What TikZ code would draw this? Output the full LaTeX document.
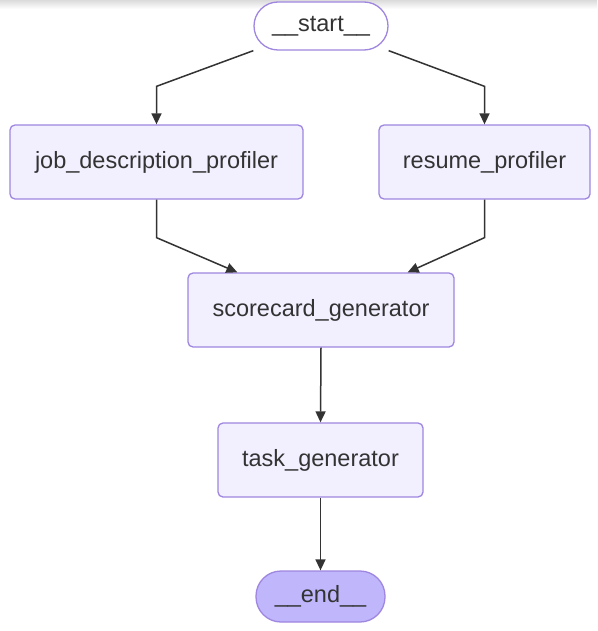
\documentclass[tikz,border=0pt]{standalone}
\usepackage{fontspec}
\setmainfont{Liberation Sans}
\usetikzlibrary{arrows.meta,calc}
\definecolor{boxfill}{HTML}{F2F0FF}
\definecolor{boxdraw}{HTML}{9F86E0}
\definecolor{endfill}{HTML}{BFB6FC}
\definecolor{edgecol}{HTML}{333333}
\definecolor{txt}{HTML}{333333}
\tikzset{
  proc/.style={draw=boxdraw, fill=boxfill, line width=1.3pt, rounded corners=5pt,
    minimum height=74pt, inner sep=0pt, text=txt, font=\fontsize{23.5}{26}\selectfont},
  termstart/.style={draw=boxdraw, fill=white, line width=1.3pt, rounded corners=24pt,
    minimum height=48pt, minimum width=134pt, inner sep=0pt, text=txt, font=\fontsize{23.5}{26}\selectfont},
  termend/.style={draw=boxdraw, fill=endfill, line width=1.3pt, rounded corners=25pt,
    minimum height=51pt, minimum width=129pt, inner sep=0pt, text=txt, font=\fontsize{23.5}{26}\selectfont},
  edge/.style={draw=edgecol, line width=1.5pt, -{Triangle[length=11pt,width=10pt]}}
}
\begin{document}
\begin{tikzpicture}[x=1pt,y=-1pt]
\useasboundingbox (0,0) rectangle (597,631);
\fill[white] (0,0) rectangle (597,631);
\shade[top color=black!14, bottom color=white] (0,0) rectangle (597,9);
\node[termstart] (start) at (321,26) {\_\_start\_\_};
\node[proc, minimum width=293pt] (jdp) at (156.5,162) {job\_description\_profiler};
\node[proc, minimum width=211pt] (rp) at (484.5,162) {resume\_profiler};
\node[proc, minimum width=266pt] (sc) at (321,310) {scorecard\_generator};
\node[proc, minimum width=205pt] (tg) at (320.5,460) {task\_generator};
\node[termend] (end) at (320.5,596.5) {\_\_end\_\_};
\draw[edge] (start.south west) -- ([yshift=38pt]jdp.north) -- (jdp.north);
\draw[edge] (start.south east) -- ([yshift=38pt]rp.north) -- (rp.north);
\draw[edge] (jdp.south) -- ([yshift=-38pt]jdp.south) -- ([xshift=50pt]sc.north west);
\draw[edge] (rp.south) -- ([yshift=-38pt]rp.south) -- ([xshift=-47pt]sc.north east);
\draw[edge] (sc.south) -- (tg.north);
\draw[edge] (tg.south) -- (end.north);
\end{tikzpicture}
\end{document}
